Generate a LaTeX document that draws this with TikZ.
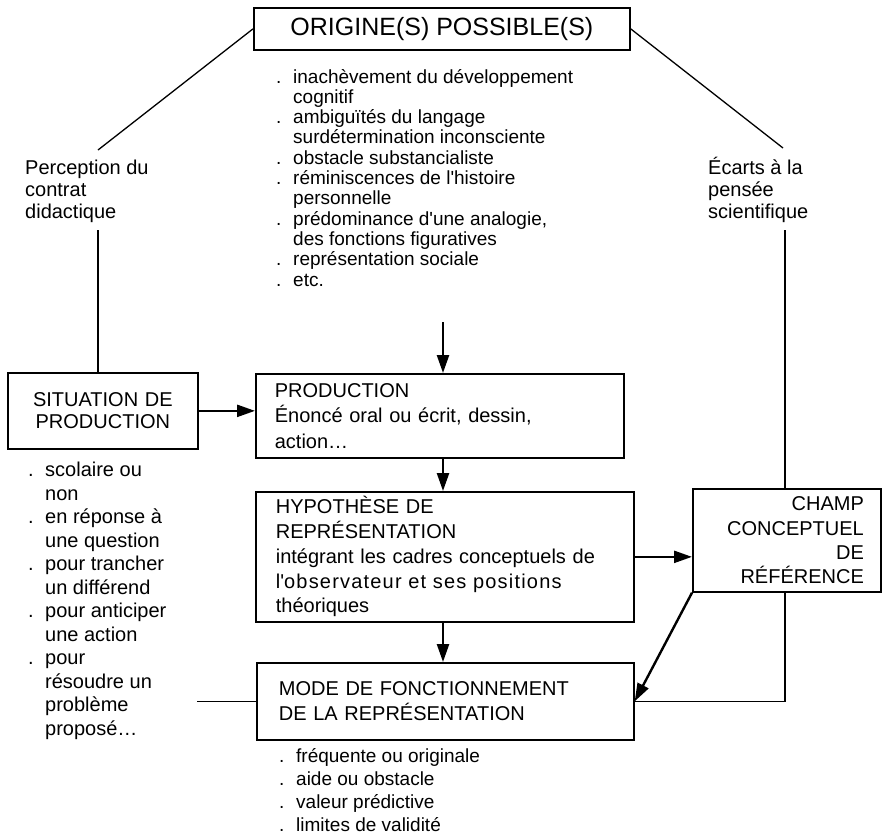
\documentclass[tikz,border=0pt]{standalone}
\usepackage{fontspec}
\setmainfont{Liberation Sans}
\usetikzlibrary{arrows.meta}
\newcommand\lbul{\makebox[17pt][l]{.}}
\newcommand\lind{\hspace*{17pt}}
\newcommand\apo{\textquotesingle}
\begin{document}
\begin{tikzpicture}[x=1pt,y=-1pt,
  box/.style={draw, line width=1.7pt, inner ysep=3pt, anchor=north west,
    font=\fontsize{20}{24.5}\selectfont},
  lst/.style={inner sep=0pt, anchor=base west, align=left},
  ln/.style={line width=1.3pt},
  arr/.style={line width=2.4pt, -{Triangle[length=18pt,width=12pt]}},
]
\useasboundingbox[fill=white] (0,0) rectangle (887,839);

% boxes
\node[box, minimum width=376pt, minimum height=42pt, inner sep=0pt,
  font=\fontsize{25}{28}\selectfont] (orig) at (253,7) {ORIGINE(S) POSSIBLE(S)};
\node[box, text width=170pt, inner xsep=10pt, minimum height=76pt, align=center,
  font=\fontsize{20}{22.5}\selectfont] (sit) at (7,372) {SITUATION DE\\PRODUCTION};
\node[box, text width=330pt, inner xsep=19pt, minimum height=84pt, align=left,
  font=\fontsize{20}{25.5}\selectfont] (prod) at (255,373)
  {PRODUCTION\\Énoncé oral ou écrit, dessin,\\action…};
\node[box, text width=338pt, inner xsep=20pt, minimum height=130pt, align=left,
  font=\fontsize{20}{24.75}\selectfont] (hyp) at (255,491)
  {HYPOTHÈSE DE\\REPRÉSENTATION\\\makebox[338pt][s]{intégrant les cadres conceptuels de}\\{\addfontfeature{LetterSpace=6}\makebox[338pt][s]{l\apo observateur et ses positions}}\\théoriques};
\node[box, text width=154pt, inner xsep=17pt, minimum height=103pt, align=right,
  font=\fontsize{20}{24.3}\selectfont] (champ) at (692,488)
  {CHAMP\\CONCEPTUEL\\DE\\RÉFÉRENCE};
\node[box, text width=333pt, inner xsep=22pt, minimum height=77pt, align=left,
  font=\fontsize{20}{25}\selectfont] (mode) at (256,662)
  {MODE DE FONCTIONNEMENT\\DE LA REPRÉSENTATION};

% free texts (base anchor = baseline of the last line)
\node[lst, font=\fontsize{20}{22}\selectfont] (perc) at (25,218)
  {Perception du\\contrat\\didactique};
\node[lst, font=\fontsize{20}{22}\selectfont] (ecarts) at (708,218)
  {Écarts à la\\pensée\\scientifique};
\node[lst, font=\fontsize{19}{20.3}\selectfont] (causes) at (276,286)
  {\lbul inachèvement du développement\\\lind cognitif\\\lbul ambiguïtés du langage\\\lind surdétermination inconsciente\\\lbul obstacle substancialiste\\\lbul réminiscences de l\apo histoire\\\lind personnelle\\\lbul prédominance d\apo une analogie,\\\lind des fonctions figuratives\\\lbul représentation sociale\\\lbul etc.};
\node[lst, font=\fontsize{20}{23.5}\selectfont] (sitlist) at (28,735)
  {\lbul scolaire ou\\\lind non\\\lbul en réponse à\\\lind une question\\\lbul pour trancher\\\lind un différend\\\lbul pour anticiper\\\lind une action\\\lbul pour\\\lind résoudre un\\\lind problème\\\lind proposé…};
\node[lst, font=\fontsize{19}{23}\selectfont] (modelist) at (279,831)
  {\lbul fréquente ou originale\\\lbul aide ou obstacle\\\lbul valeur prédictive\\\lbul limites de validité};

% free ends
\coordinate (pl) at (98,150);
\coordinate (pr) at (783,148);
\coordinate (pv) at (98,230);
\coordinate (rv) at (785,230);
\coordinate (ca) at (443,322);
\coordinate (ml) at (197,0);

% connectors
\draw[ln] (orig.west) -- (pl);
\draw[ln] (orig.east) -- (pr);
\draw[ln] (pv) -- (pv |- sit.north);
\draw[ln] (rv) -- (rv |- champ.north);
\draw[ln] (rv |- champ.south) |- (mode.east);
\draw[ln] (ml |- mode.west) -- (mode.west);
\draw[arr] (ca) -- (ca |- prod.north);
\draw[arr] (sit.east) -- (sit.east -| prod.west);
\draw[arr] (ca |- prod.south) -- (ca |- hyp.north);
\draw[arr] (ca |- hyp.south) -- (ca |- mode.north);
\draw[arr] (hyp.east) -- (hyp.east -| champ.west);
\draw[arr] (champ.south west) -- (mode.east);
\end{tikzpicture}
\end{document}
